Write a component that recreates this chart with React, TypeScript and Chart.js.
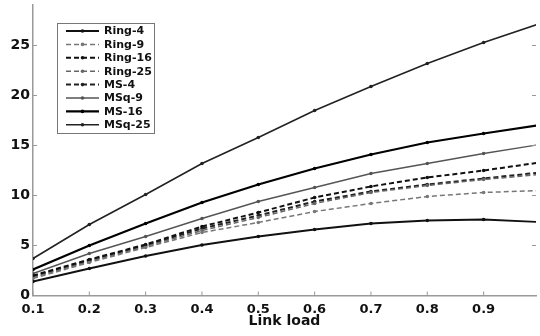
import { useEffect, useRef } from "react";
import { Chart, registerables } from "chart.js";

Chart.register(...registerables);

const linkLoad = [0.1, 0.2, 0.3, 0.4, 0.5, 0.6, 0.7, 0.8, 0.9, 1.0];
const ring4 = [1.4, 2.7, 3.95, 5.05, 5.9, 6.6, 7.2, 7.5, 7.6, 7.35];
const ring9 = [1.7, 3.3, 4.8, 6.3, 7.3, 8.4, 9.2, 9.9, 10.3, 10.5];
const ring16 = [2.0, 3.6, 5.1, 6.9, 8.3, 9.8, 10.9, 11.8, 12.5, 13.3];
const ring25 = [1.8, 3.4, 4.9, 6.5, 7.8, 9.2, 10.3, 11.0, 11.6, 12.1];
const ms4 = [1.9, 3.5, 5.0, 6.7, 8.0, 9.4, 10.4, 11.1, 11.7, 12.3];
const msq9 = [2.2, 4.2, 5.9, 7.7, 9.4, 10.8, 12.2, 13.2, 14.2, 15.1];
const ms16 = [2.6, 5.0, 7.2, 9.3, 11.1, 12.7, 14.1, 15.3, 16.2, 17.05];
const msq25 = [3.7, 7.1, 10.1, 13.2, 15.8, 18.5, 20.9, 23.2, 25.3, 27.2];

const xTicks = [0.1, 0.2, 0.3, 0.4, 0.5, 0.6, 0.7, 0.8, 0.9];
const yTicks = [0, 5, 10, 15, 20, 25];

const FONT = "'DejaVu Sans', sans-serif";

type S = { label: string; values: number[]; color: string; width: number; dash: number[] };

const series: S[] = [
  { label: "Ring-4", values: ring4, color: "#111", width: 1.8, dash: [] },
  { label: "Ring-9", values: ring9, color: "#777", width: 1.5, dash: [5, 3] },
  { label: "Ring-16", values: ring16, color: "#111", width: 2, dash: [5, 3] },
  { label: "Ring-25", values: ring25, color: "#666", width: 1.5, dash: [5, 3] },
  { label: "MS-4", values: ms4, color: "#222", width: 2, dash: [5, 3] },
  { label: "MSq-9", values: msq9, color: "#555", width: 1.4, dash: [] },
  { label: "MS-16", values: ms16, color: "#000", width: 2.2, dash: [] },
  { label: "MSq-25", values: msq25, color: "#222", width: 1.6, dash: [] },
];

const zeroPad = (scale: any) => {
  scale.paddingTop = 0;
  scale.paddingBottom = 0;
  scale.paddingLeft = 0;
  scale.paddingRight = 0;
};

const overlay = {
  id: "overlay",
  afterDraw(chart: any) {
    const ctx = chart.ctx as CanvasRenderingContext2D;
    const { left, right, bottom } = chart.chartArea;
    const xs = chart.scales.x;
    const ys = chart.scales.y;
    ctx.save();
    ctx.strokeStyle = "#999";
    ctx.lineWidth = 1;
    const seg = (x1: number, y1: number, x2: number, y2: number) => {
      ctx.beginPath();
      ctx.moveTo(x1, y1);
      ctx.lineTo(x2, y2);
      ctx.stroke();
    };
    yTicks.forEach((v) => {
      const y = ys.getPixelForValue(v);
      seg(left, y, left + 4, y);
      seg(right, y, right - 4, y);
    });
    xTicks.forEach((v) => {
      const x = xs.getPixelForValue(v);
      seg(x, bottom, x, bottom - 4);
    });

    // legend box
    const bx = 57, by = 23, bw = 97, bh = 110;
    ctx.fillStyle = "#fff";
    ctx.fillRect(bx, by, bw, bh);
    ctx.strokeStyle = "#777";
    ctx.lineWidth = 1;
    ctx.strokeRect(bx + 0.5, by + 0.5, bw, bh);
    ctx.font = `bold 11px ${FONT}`;
    ctx.textBaseline = "middle";
    ctx.textAlign = "left";
    series.forEach((s, i) => {
      const y = 31 + i * 13.4;
      ctx.strokeStyle = s.color;
      ctx.lineWidth = s.width;
      ctx.setLineDash(s.dash);
      seg(66, y, 99, y);
      ctx.setLineDash([]);
      ctx.fillStyle = s.color;
      ctx.beginPath();
      ctx.arc(82.5, y, 1.8, 0, Math.PI * 2);
      ctx.fill();
      ctx.fillStyle = "#111";
      ctx.fillText(s.label, 104, y + 0.5);
    });
    ctx.restore();
  },
};

export default function App() {
  const ref = useRef<HTMLCanvasElement | null>(null);
  useEffect(() => {
    if (!ref.current) return;
    const chart = new Chart(ref.current, {
      type: "line",
      data: {
        datasets: series.map((s) => ({
          label: s.label,
          data: linkLoad.map((x, i) => ({ x, y: s.values[i] })),
          borderColor: s.color,
          backgroundColor: s.color,
          borderWidth: s.width,
          borderDash: s.dash,
          pointRadius: 1.8,
          pointBorderWidth: 0,
          pointBackgroundColor: s.color,
          fill: false,
          tension: 0,
        })),
      },
      options: {
        animation: false,
        responsive: false,
        maintainAspectRatio: false,
        layout: { padding: { top: 5, right: 0, left: 0, bottom: 0 } },
        plugins: {
          legend: { display: false },
          tooltip: { enabled: false },
        },
        scales: {
          x: {
            type: "linear",
            min: 0.1,
            max: 0.993,
            afterBuildTicks: (scale: any) => {
              scale.ticks = xTicks.map((v) => ({ value: v }));
            },
            afterFit: (scale: any) => {
              scale.height = 40.5;
              zeroPad(scale);
            },
            grid: { display: true, drawOnChartArea: false, drawTicks: false },
            border: { display: true, color: "#999", width: 1.5 },
            ticks: {
              padding: 6,
              color: "#111",
              font: { family: FONT, size: 13, weight: "bold" },
              maxRotation: 0,
              autoSkip: false,
              callback: (v: any) => Number(v).toFixed(1),
            },
            title: {
              display: true,
              text: "Link load",
              color: "#111",
              font: { family: FONT, size: 14, weight: "bold" },
              padding: { top: 0, bottom: 6 },
            },
          },
          y: {
            type: "linear",
            min: 0,
            max: 29.05,
            afterBuildTicks: (scale: any) => {
              scale.ticks = yTicks.map((v) => ({ value: v }));
            },
            afterFit: (scale: any) => {
              scale.width = 33;
              zeroPad(scale);
            },
            grid: { display: true, drawOnChartArea: false, drawTicks: false },
            border: { display: true, color: "#999", width: 1.5 },
            ticks: {
              padding: 3,
              color: "#111",
              font: { family: FONT, size: 14, weight: "bold" },
              autoSkip: false,
            },
          },
        },
      },
      plugins: [overlay],
    } as any);
    return () => chart.destroy();
  }, []);
  return (
    <canvas
      ref={ref}
      width={540}
      height={336}
      style={{ position: "absolute", left: 0, top: 0, width: 540, height: 336, background: "#fff" }}
    />
  );
}
